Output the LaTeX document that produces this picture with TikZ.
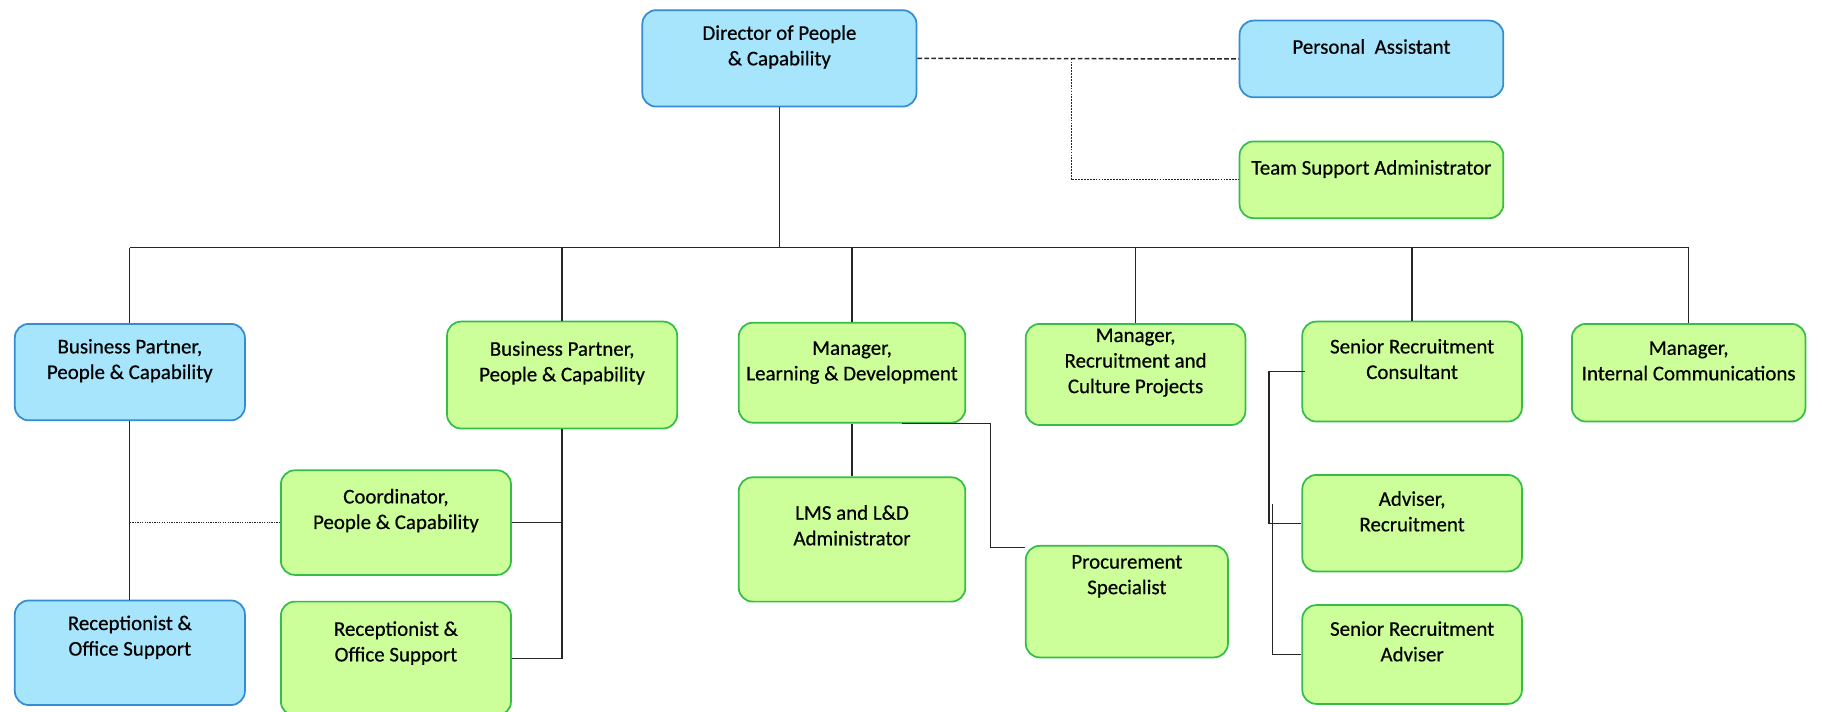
\documentclass[tikz,border=0pt]{standalone}
\usepackage{fontspec}
\setmainfont{Carlito}[FakeBold=0.5]
\usepackage{tikz}
\usetikzlibrary{positioning, calc}

\definecolor{bluefill}{RGB}{166,229,252}
\definecolor{blueline}{RGB}{52,140,212}
\definecolor{greenfill}{RGB}{204,255,153}
\definecolor{greenline}{RGB}{52,190,72}

\begin{document}
\begin{tikzpicture}[x=1pt, y=1pt,
    bluebox/.style={draw=blueline, fill=bluefill, line width=1.5pt, rounded corners=12pt,
        anchor=north west, inner sep=0pt, font=\fontsize{18}{22}\selectfont},
    greenbox/.style={draw=greenline, fill=greenfill, line width=1.5pt, rounded corners=12pt,
        anchor=north west, inner sep=0pt, font=\fontsize{18}{22}\selectfont},
    link/.style={draw=black!85, line width=1.1pt}]
    \useasboundingbox (0,0) rectangle (1568,-612);

    % boxes: name / left / top / right / bottom / style / first line / text
    \foreach \name/\xa/\ya/\xb/\yb/\kind/\dy/\txt in {
        dir/552/8/788/91/bluebox/20/{Director of People\\ \& Capability},
        pa/1066/17/1293/83/bluebox/23/{Personal\ \ Assistant},
        tsa/1066/121/1293/187/greenbox/23/{Team Support Administrator},
        bpa/12/278/210/361/bluebox/20/{Business Partner,\\ People \& Capability},
        bpb/384/276/582/368/greenbox/24/{Business Partner,\\ People \& Capability},
        mld/635/277/830/363/greenbox/23/{Manager,\\ Learning \& Development},
        mrc/882/278/1071/365/greenbox/11/{Manager,\\ Recruitment and\\ Culture Projects},
        src/1120/276/1309/362/greenbox/22/{Senior Recruitment\\ Consultant},
        mic/1352/278/1553/362/greenbox/22/{Manager,\\ Internal Communications},
        coo/241/404/439/494/greenbox/23/{Coordinator,\\ People \& Capability},
        rcg/241/517/439/615/greenbox/24/{Receptionist \&\\ Office Support},
        rcb/12/516/210/606/bluebox/20/{Receptionist \&\\ Office Support},
        lms/635/410/830/517/greenbox/31/{LMS and L\&D\\ Administrator},
        prc/882/469/1056/565/greenbox/15/{Procurement\\ Specialist},
        adv/1120/408/1309/491/greenbox/21/{Adviser,\\ Recruitment},
        sra/1120/520/1309/605/greenbox/21/{Senior Recruitment\\ Adviser}}{

        \pgfmathsetmacro\bw{\xb-\xa}
        \pgfmathsetmacro\bh{\yb-\ya}
        \pgfmathsetmacro\pad{\dy-7}
        \node[\kind] (\name) at (\xa,-\ya)
            {\parbox[c][\bh pt][t]{\bw pt}{\centering\vspace*{\pad pt}\txt}};
    }

    % main bus
    \coordinate (bus) at (0,-213);
    \draw[link] (dir.south) -- (dir.south |- bus);
    \draw[link] (bpa.north |- bus) -- (mic.north |- bus);
    \foreach \n in {bpa,bpb,mld,mrc,src,mic}
    {
        \draw[link] (\n.north) -- (\n.north |- bus);
    }

    % assistants
    \coordinate (patap) at ($(dir.east)!0.48!(pa.west)$);
    \draw[link, line width=1.3pt, dash pattern=on 4pt off 2pt] (dir.east) -- (pa.west);
    \draw[link, line width=0.9pt, dash pattern=on 1.5pt off 1pt] (patap) |- (tsa.west);

    % people & capability
    \draw[link] (bpa.south) -- (rcb.north);
    \draw[link, densely dotted] (coo.west) -- (coo.west -| bpa.south);
    \draw[link] (bpb.south) |- (rcg.east);
    \draw[link] (coo.east) -- (coo.east -| bpb.south);

    % learning & development
    \coordinate (mldtap) at ([xshift=43]mld.south);
    \draw[link] (mld.south) -- (lms.north);
    \draw[link] (mldtap) -- ++(76,0) |- ([yshift=-2]prc.north west);

    % recruitment
    \coordinate (sratap) at (1095,-434);
    \draw[link] ([xshift=3]src.west) -- ++(-31,0) |- (adv.west);
    \draw[link] (sratap) |- (sra.west);
\end{tikzpicture}
\end{document}
